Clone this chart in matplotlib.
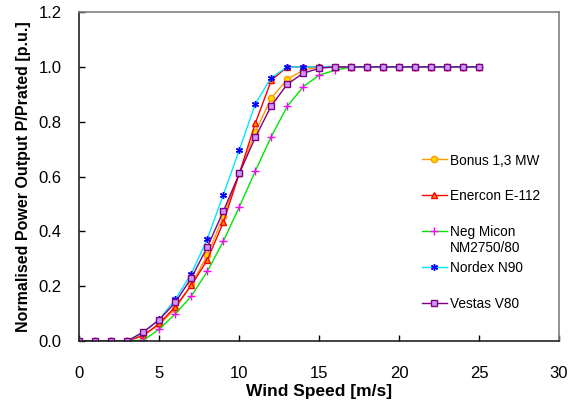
import numpy as np
import matplotlib
matplotlib.use('Agg')
import matplotlib.pyplot as plt

plt.rcParams['font.family'] = ['Liberation Sans', 'DejaVu Sans']

# wind speed [m/s]
viento = np.arange(0, 26)

# potencia normalizada por turbina
bonus = [0, 0, 0, 0, 0.02, 0.06, 0.118, 0.206, 0.313, 0.455, 0.611, 0.763, 0.886, 0.955, 0.988,
         1, 1, 1, 1, 1, 1, 1, 1, 1, 1, 1]
enercon = [0, 0, 0, 0, 0.02, 0.064, 0.125, 0.203, 0.296, 0.433, 0.611, 0.794, 0.951, 1, 1,
           1, 1, 1, 1, 1, 1, 1, 1, 1, 1, 1]
negmicon = [0, 0, 0, 0, 0.003, 0.043, 0.099, 0.164, 0.254, 0.364, 0.489, 0.62, 0.746, 0.856, 0.928,
            0.97, 0.988, 1, 1, 1, 1, 1, 1, 1, 1, 1]
nordex = [0, 0, 0, 0, 0.03, 0.079, 0.152, 0.246, 0.372, 0.534, 0.697, 0.865, 0.961, 1, 1,
          1, 1, 1, 1, 1, 1, 1, 1, 1, 1, 1]
vestas = [0, 0, 0, 0, 0.033, 0.078, 0.141, 0.23, 0.343, 0.473, 0.611, 0.743, 0.858, 0.937, 0.977,
          0.995, 1, 1, 1, 1, 1, 1, 1, 1, 1, 1]

nombres = ['Bonus 1,3 MW', 'Enercon E-112', 'Neg Micon\nNM2750/80', 'Nordex N90', 'Vestas V80']
series = [bonus, enercon, negmicon, nordex, vestas]

# estilos: color de línea, marcador, relleno, borde
estilos = [
    dict(color='#FF9900', marker='o', mfc='#FFD700', mec='#FF9900', ms=4.5),
    dict(color='#FF0000', marker='^', mfc='#FF9900', mec='#FF0000', ms=5),
    dict(color='#00E600', marker='+', mfc='#FF00FF', mec='#FF00FF', ms=6),
    dict(color='#00E5FF', marker=(6, 2, 0), mfc='#0000FF', mec='#0000FF', ms=5),
    dict(color='#800080', marker='s', mfc='#CC99FF', mec='#800080', ms=4.5),
]

fig = plt.figure(figsize=(5.76, 4.03), dpi=100)
ax = fig.add_axes([0.138, 0.154, 0.8325, 0.816])

for datos, est in zip(series, estilos):
    ax.plot(viento, datos, lw=1.0, mew=1.0, **est)

ax.set_xlim(0, 30)
ax.set_ylim(0, 1.2)
ax.set_xticks(np.arange(0, 31, 5))
ax.set_yticks(np.arange(0, 1.21, 0.2))
ax.set_yticklabels(['%.1f' % v for v in np.arange(0, 1.21, 0.2)])
ax.tick_params(direction='in', labelsize=12, length=4, width=1)
ax.tick_params(axis='y', pad=13)
ax.tick_params(axis='x', pad=18)

for lado in ['left', 'bottom']:
    ax.spines[lado].set_color('#222222')
    ax.spines[lado].set_linewidth(1.2)
for lado in ['top', 'right']:
    ax.spines[lado].set_color('#808080')
    ax.spines[lado].set_linewidth(1.2)

ax.set_xlabel('Wind Speed [m/s]', fontsize=12.5, fontweight='bold', labelpad=2)
ax.set_ylabel('Normalised Power Output P/Prated [p.u.]', fontsize=11.5, fontweight='bold', labelpad=5)

# leyenda manual (sin marco)
ys = [0.552, 0.444, 0.335, 0.226, 0.1155]
for nombre, est, y in zip(nombres, estilos, ys):
    ax.plot([0.714, 0.766], [y, y], transform=ax.transAxes, clip_on=False, lw=1.0,
            color=est['color'])
    ax.plot([0.740], [y], transform=ax.transAxes, clip_on=False, ls='none',
            marker=est['marker'], mfc=est['mfc'], mec=est['mec'], ms=est['ms'], mew=1.0)
    lineas = nombre.split('\n')
    ax.text(0.772, y, lineas[0], transform=ax.transAxes, fontsize=9.8, va='center_baseline')
    if len(lineas) > 1:
        ax.text(0.772, y - 0.049, lineas[1], transform=ax.transAxes, fontsize=9.8,
                va='center_baseline')

fig.savefig('out.png', dpi=100)
